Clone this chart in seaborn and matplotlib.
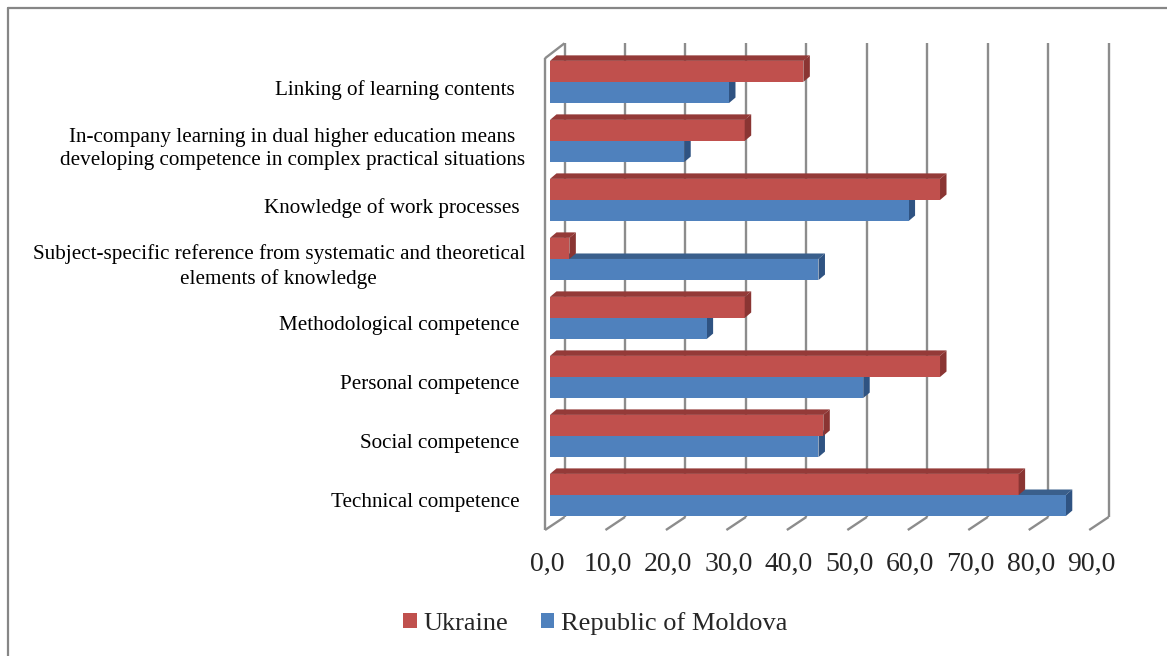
import matplotlib
matplotlib.use("Agg")
import matplotlib.pyplot as plt
import seaborn as sns
import pandas as pd
from matplotlib.patches import Polygon, Patch
from matplotlib.lines import Line2D
from matplotlib.transforms import IdentityTransform, offset_copy, ScaledTranslation

# ---------------- data ----------------
categories = [
    "Linking of learning contents  ",
    "In-company learning in dual higher education means\ndeveloping competence in complex practical situations",
    "Knowledge of work processes ",
    "Subject-specific reference from systematic and theoretical\nelements of knowledge",
    "Methodological competence ",
    "Personal competence ",
    "Social competence ",
    "Technical competence ",
]
series_names = ["Ukraine", "Republic of Moldova"]
ukraine = [41.9, 32.2, 64.5, 3.2, 32.2, 64.5, 45.2, 77.5]
moldova = [29.6, 22.2, 59.3, 44.4, 25.9, 51.8, 44.4, 85.3]
xticks = [0, 10, 20, 30, 40, 50, 60, 70, 80, 90]
xtick_labels = ["0,0", "10,0", "20,0", "30,0", "40,0", "50,0", "60,0", "70,0", "80,0", "90,0"]

front_colors = ["#C0504D", "#4F81BD"]
side_colors = ["#8A3533", "#2F5382"]
top_colors = ["#943A38", "#3A5F8C"]
grid_color = "#8C8C8C"

df = pd.DataFrame({
    "category": categories * 2,
    "series": [series_names[0]] * len(categories) + [series_names[1]] * len(categories),
    "value": ukraine + moldova,
})

# ---------------- figure ----------------
sns.set_style("white")
plt.rcParams["font.family"] = ["Liberation Serif", "DejaVu Serif"]

W, H = 1167, 656
fig = plt.figure(figsize=(W / 100, H / 100), dpi=100)
ax_left, ax_right = 550, 1094.2
ax_top, ax_bottom = 56, 524.5
ax = fig.add_axes([ax_left / W, 1 - ax_bottom / H, (ax_right - ax_left) / W, (ax_bottom - ax_top) / H])
ax.patch.set_visible(False)

sns.barplot(data=df, y="category", x="value", hue="series", order=categories,
            hue_order=series_names, palette=front_colors, orient="h", width=0.715,
            saturation=1, errorbar=None, legend=False, ax=ax)

XLIM = (0, 90)
YLIM = (7.5, -0.44)
ax.set_xlim(*XLIM)
ax.set_ylim(*YLIM)
for s in ax.spines.values():
    s.set_visible(False)
ax.set_xlabel("")
ax.set_ylabel("")
ax.set_yticks([])
ax.set_xticks(xticks)
ax.set_xticklabels(xtick_labels, fontsize=20)
ax.tick_params(axis="x", length=0, pad=20)
shift = ScaledTranslation(-3 / 100, 0, fig.dpi_scale_trans)
for lab in ax.get_xticklabels():
    lab.set_transform(lab.get_transform() + shift)

T = ax.transData
ident = IdentityTransform()

# wall offsets in pixels (display coords, y up) relative to the bar plane
FRONT_X, BACK_X = -5.0, 14.5
FRONT_BOT_Y, BACK_BOT_Y = -5.5, 7.5
FRONT_TOP_Y, BACK_TOP_Y = -2.3, 12.7
BAR_D = (6.5, 5.5)

def add_line(p, q, z=0.5):
    ax.add_line(Line2D([p[0], q[0]], [p[1], q[1]], color=grid_color, lw=1.7,
                       transform=ident, clip_on=False, zorder=z, solid_capstyle="butt"))

# back wall gridlines + floor diagonals
for v in xticks:
    bx, by = T.transform((v, YLIM[0]))
    tx, ty = T.transform((v, YLIM[1]))
    add_line((bx + BACK_X, by + BACK_BOT_Y), (tx + BACK_X, ty + BACK_TOP_Y))
    add_line((bx + FRONT_X, by + FRONT_BOT_Y), (bx + BACK_X, by + BACK_BOT_Y))

# left wall
bx, by = T.transform((0, YLIM[0]))
tx, ty = T.transform((0, YLIM[1]))
add_line((bx + FRONT_X, by + FRONT_BOT_Y), (tx + FRONT_X, ty + FRONT_TOP_Y))
add_line((tx + FRONT_X, ty + FRONT_TOP_Y), (tx + BACK_X, ty + BACK_TOP_Y))

# 3D faces of the bars
for si, cont in enumerate(ax.containers):
    zf = 1.5 if si == 1 else 4
    for bar in cont:
        bar.set_zorder(3)
        bar.set_edgecolor("none")
        x0, y0 = bar.get_x(), bar.get_y()
        x1, y1 = x0 + bar.get_width(), y0 + bar.get_height()
        (dx0, dyb), (dx1, dyt) = T.transform((x0, y1)), T.transform((x1, y0))
        right = [(dx1, dyb), (dx1, dyt), (dx1 + BAR_D[0], dyt + BAR_D[1]), (dx1 + BAR_D[0], dyb + BAR_D[1])]
        top = [(dx0, dyt), (dx1, dyt), (dx1 + BAR_D[0], dyt + BAR_D[1]), (dx0 + BAR_D[0], dyt + BAR_D[1])]
        ax.add_patch(Polygon(top, closed=True, facecolor=top_colors[si], edgecolor="none",
                             transform=ident, clip_on=False, zorder=zf))
        ax.add_patch(Polygon(right, closed=True, facecolor=side_colors[si], edgecolor="none",
                             transform=ident, clip_on=False, zorder=zf))

ax.set_xlim(*XLIM)
ax.set_ylim(*YLIM)

# category labels
lab_tr = offset_copy(ax.transData, fig=fig, x=-25, y=-8, units="dots")
for i, c in enumerate(categories):
    ax.text(0, i, c, transform=lab_tr, ha="right", va="center", multialignment="center",
            fontsize=15.2, linespacing=1.35, color="black")

# legend
handles = [Patch(facecolor=front_colors[0], edgecolor="none"),
           Patch(facecolor=front_colors[1], edgecolor="none")]
fig.legend(handles, series_names, loc="center", bbox_to_anchor=(0.51, 0.05), ncol=2,
           frameon=False, fontsize=19, handlelength=0.5, handleheight=0.5,
           handletextpad=0.25, columnspacing=1.25)

# outer frame (left and top edges visible)
fig.add_artist(Line2D([7.5 / W, 7.5 / W], [0, 1 - 7.5 / H], color="#868686", lw=1.6,
                      transform=fig.transFigure))
fig.add_artist(Line2D([7.5 / W, 1], [1 - 7.5 / H, 1 - 7.5 / H], color="#868686", lw=1.6,
                      transform=fig.transFigure))

fig.savefig("out.png", dpi=100, facecolor="white")
